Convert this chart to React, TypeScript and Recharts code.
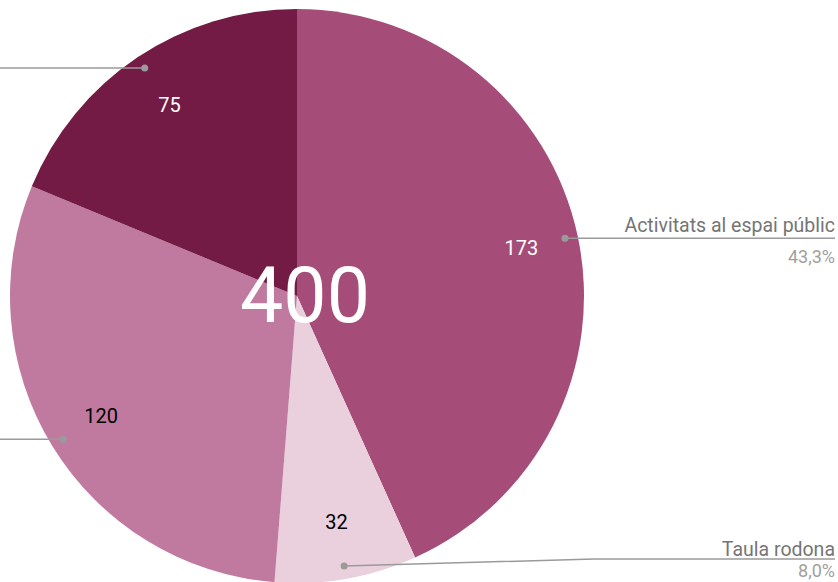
import React from 'react';
import { PieChart, Pie, Cell } from 'recharts';

const categories = ['Activitats al espai públic', 'Taula rodona', '', ''];
const values = [173, 32, 120, 75];
const colors = ['#a54d78', '#e9d0dc', '#c07a9f', '#731a45'];
const valueTextColors = ['#ffffff', '#000000', '#000000', '#ffffff'];

const data = categories.map((name, i) => ({ name, value: values[i] }));
const total = values.reduce((a, b) => a + b, 0);

const W = 838;
const H = 582;
const CX = 297;
const CY = 296;
const R = 287;
const RADIAN = Math.PI / 180;
const FONT = 'Roboto, sans-serif';

const renderLabel = (props: any) => {
  const { cx, cy, midAngle, outerRadius, index, value, percent, name } = props;
  const cos = Math.cos(-midAngle * RADIAN);
  const sin = Math.sin(-midAngle * RADIAN);
  const inR = outerRadius * 0.8;
  const vx = cx + inR * cos;
  const vy = cy + inR * sin;
  const dR = outerRadius * 0.955;
  const dx = cx + dR * cos;
  const dy = cy + dR * sin;
  const right = cos > 0;
  const lineY = Math.min(dy, H - 23);
  const elbowX = right ? cx + outerRadius + 10 : cx - outerRadius - 10;
  const endX = right ? W - 3 : 0;
  const pct = (percent * 100).toFixed(1).replace('.', ',') + '%';
  const nameY = lineY - (lineY >= H - 23 ? 3 : 6);
  const pctY = Math.min(lineY + 25, H - 5);
  return (
    <g key={`lbl-${index}`}>
      {index === 0 && (
        <text x={cx + 8} y={cy + 26} textAnchor="middle" fill="#ffffff" fontSize={77} fontFamily={FONT}>
          {total}
        </text>
      )}
      <text x={vx} y={vy} textAnchor="middle" dominantBaseline="central" fill={valueTextColors[index]} fontSize={20} fontFamily={FONT}>
        {value}
      </text>
      <path d={`M${dx},${dy} L${elbowX},${lineY} L${endX},${lineY}`} stroke="#9a9a9a" strokeWidth={1.5} fill="none" />
      <circle cx={dx} cy={dy} r={3.5} fill="#9a9a9a" />
      {name && (
        <text x={endX} y={nameY} textAnchor={right ? 'end' : 'start'} fill="#757575" fontSize={19.5} fontFamily={FONT}>
          {name}
        </text>
      )}
      {name && (
        <text x={endX} y={pctY} textAnchor={right ? 'end' : 'start'} fill="#a0a0a0" fontSize={18} fontFamily={FONT}>
          {pct}
        </text>
      )}
    </g>
  );
};

export default function App() {
  return (
    <div style={{ position: 'absolute', left: 0, top: 0, width: W, height: H, background: '#ffffff' }}>
      <PieChart width={W} height={H} margin={{ top: 0, right: 0, bottom: 0, left: 0 }}>
        <Pie
          data={data}
          dataKey="value"
          nameKey="name"
          cx={CX}
          cy={CY}
          outerRadius={R}
          startAngle={90}
          endAngle={-270}
          stroke="none"
          label={renderLabel}
          labelLine={false}
          isAnimationActive={false}
        >
          {data.map((d, i) => (
            <Cell key={i} fill={colors[i]} stroke="none" />
          ))}
        </Pie>
      </PieChart>
    </div>
  );
}
